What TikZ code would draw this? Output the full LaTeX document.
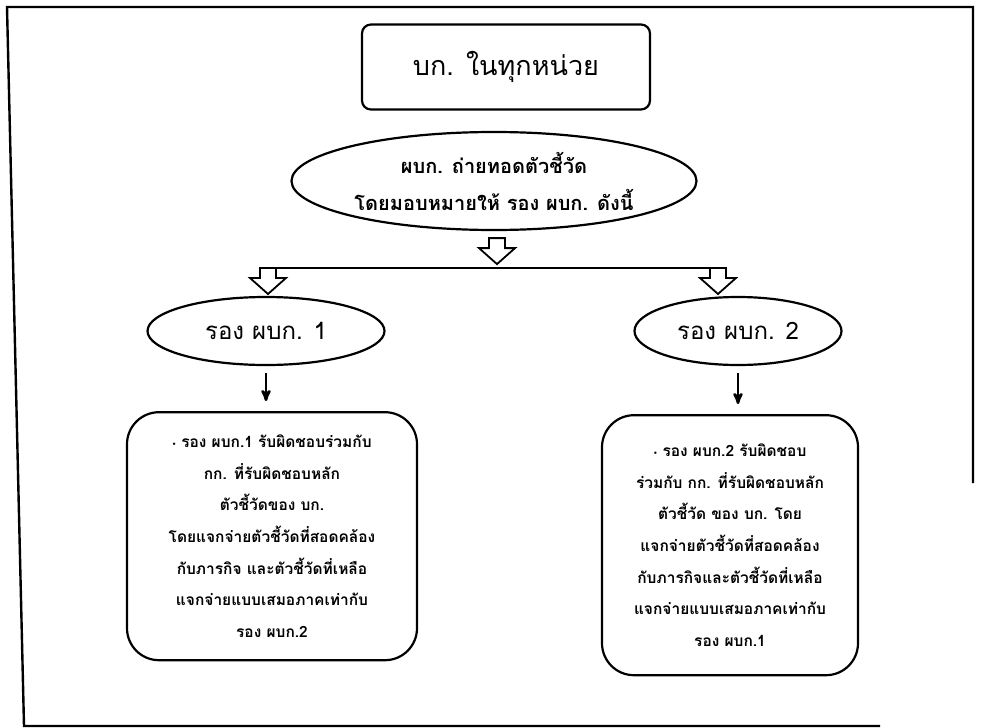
\documentclass[tikz,border=0pt]{standalone}
\usepackage{fontspec}
\newfontfamily\thaifont[Script=Thai]{Loma}
\usetikzlibrary{arrows,positioning,shapes}

% hollow block arrow pointing down, top centre at #1
\newcommand{\hollowdown}[1]{%
  \draw[fill=white,line width=1.8pt,shift={(#1)}]
    (-8,0) -- (8,0) -- (8,10) -- (18,10) -- (0,26) -- (-18,10) -- (-8,10) -- cycle;}

\begin{document}
\begin{tikzpicture}[x=1pt,y=-1pt,line width=2.2pt,
    unitbox/.style={draw,rounded corners=9pt,minimum width=288pt,minimum height=85pt,
                    font=\thaifont\fontsize{27}{32}\selectfont},
    goal/.style={draw,ellipse,inner sep=-12pt,minimum width=405pt,minimum height=98pt,
                 align=center,font=\thaifont\bfseries\fontsize{20}{37}\selectfont},
    deputy/.style={draw,ellipse,inner sep=0pt,minimum height=68pt,
                   font=\thaifont\fontsize{24}{28}\selectfont},
    duty/.style={draw,rounded corners=32pt,align=center,inner sep=0pt,
                 font=\thaifont\bfseries\fontsize{15.5}{31.7}\selectfont}]

  \useasboundingbox (0,0) rectangle (986,728);

  % open frame of the scan
  \draw[line width=2.4pt] (973,483) -- (973,7) -- (7,7) -- (24,726) -- (880,726);

  \node[unitbox] (unit) at (506,67) {บก. ในทุกหน่วย};
  \node[goal] (assign) at (494,181) {ผบก. ถ่ายทอดตัวชี้วัด\\โดยมอบหมายให้ รอง ผบก. ดังนี้};

  \node[deputy,minimum width=237pt] (dep1) at (266,331) {รอง ผบก. 1};
  \node[deputy,minimum width=207pt] (dep2) at (738,331) {รอง ผบก. 2};

  \node[duty,minimum width=290pt,minimum height=248pt] (duty1)
       [below=45pt of dep1,xshift=6pt]
       {\raisebox{0.3ex}{\normalfont\tiny$\bullet$} รอง ผบก.1 รับผิดชอบร่วมกับ\\
        กก. ที่รับผิดชอบหลัก\\
        ตัวชี้วัดของ บก.\\
        โดยแจกจ่ายตัวชี้วัดที่สอดคล้อง\\
        กับภารกิจ และตัวชี้วัดที่เหลือ\\
        แจกจ่ายแบบเสมอภาคเท่ากับ\\
        รอง ผบก.2};
  \node[duty,minimum width=256pt,minimum height=260pt] (duty2)
       [below=48pt of dep2,xshift=-8pt]
       {\raisebox{0.3ex}{\normalfont\tiny$\bullet$} รอง ผบก.2 รับผิดชอบ\\
        ร่วมกับ กก. ที่รับผิดชอบหลัก\\
        ตัวชี้วัด ของ บก. โดย\\
        แจกจ่ายตัวชี้วัดที่สอดคล้อง\\
        กับภารกิจและตัวชี้วัดที่เหลือ\\
        แจกจ่ายแบบเสมอภาคเท่ากับ\\
        รอง ผบก.1};

  % split of the assignment
  \coordinate (fork) at ([yshift=-7pt,xshift=3pt]assign.south);
  \coordinate (forkL) at (268,268);
  \coordinate (forkR) at (718,268);
  \hollowdown{fork}
  \draw (forkL) -- ([xshift=8pt]forkR);
  \hollowdown{forkL}
  \hollowdown{forkR}

  \draw[->,>=stealth',line width=2.6pt,shorten <=7pt,shorten >=10pt]
       (dep1.south) -- (dep1.south |- duty1.north);
  \draw[->,>=stealth',line width=2.6pt,shorten <=7pt,shorten >=10pt]
       (dep2.south) -- (dep2.south |- duty2.north);
\end{tikzpicture}
\end{document}
